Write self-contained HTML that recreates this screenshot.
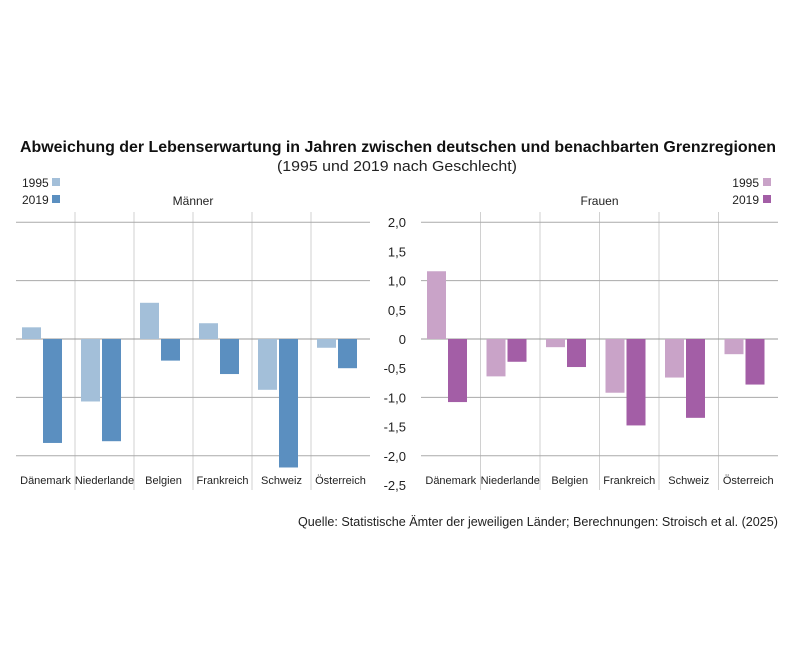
<!DOCTYPE html>
<html><head><meta charset="utf-8"><style>
body{margin:0;background:#fff;}
svg{display:block;font-family:"Liberation Sans",sans-serif;}
</style></head><body>
<svg id="c" width="800" height="664" viewBox="0 0 800 664">
<text x="398" y="152" text-anchor="middle" font-size="16" font-weight="bold" fill="#111" textLength="756" lengthAdjust="spacingAndGlyphs">Abweichung der Lebenserwartung in Jahren zwischen deutschen und benachbarten Grenzregionen</text>
<text x="397" y="171" text-anchor="middle" font-size="15" fill="#222" textLength="240" lengthAdjust="spacingAndGlyphs">(1995 und 2019 nach Geschlecht)</text>
<text x="778" y="526" text-anchor="end" font-size="12.5" fill="#222" textLength="480" lengthAdjust="spacingAndGlyphs">Quelle: Statistische Ämter der jeweiligen Länder; Berechnungen: Stroisch et al. (2025)</text>
<g id="g"></g>
</svg>
<script>
const categories=["Dänemark","Niederlande","Belgien","Frankreich","Schweiz","Österreich"];
const men1995=[0.2,-1.07,0.62,0.27,-0.87,-0.15];
const men2019=[-1.78,-1.75,-0.37,-0.6,-2.2,-0.5];
const women1995=[1.16,-0.64,-0.14,-0.92,-0.66,-0.26];
const women2019=[-1.08,-0.39,-0.48,-1.48,-1.35,-0.78];
const tickValues=[2,1.5,1,0.5,0,-0.5,-1,-1.5,-2,-2.5];
const tickLabels=["2,0","1,5","1,0","0,5","0","-0,5","-1,0","-1,5","-2,0","-2,5"];
const gridValues=[2,1,0,-1,-2];

const NS="http://www.w3.org/2000/svg";
const g=document.getElementById('g');
function y(v){return 339-v*58.4;}
function mk(t,a){const e=document.createElementNS(NS,t);for(const k in a)e.setAttribute(k,a[k]);g.appendChild(e);return e;}

const panels=[
 {name:"maenner",title:"Männer",x0:16,x1:370,cw:59,a:men1995,b:men2019,ca:"#a3bfd9",cb:"#5b8fc0"},
 {name:"frauen",title:"Frauen",x0:421,x1:778,cw:59.5,a:women1995,b:women2019,ca:"#c9a3c8",cb:"#a35ea6"}
];
panels.forEach(p=>{
  for(let i=1;i<categories.length;i++){
    const x=p.x0+i*p.cw;
    const l=mk('line',{x1:x,x2:x,y1:212,y2:490,stroke:"#d0d0d0","stroke-width":1});
    
    
  }
  gridValues.forEach(v=>{
    const l=mk('line',{x1:p.x0,x2:p.x1,y1:y(v),y2:y(v),stroke:v===0?"#999":"#aaa","stroke-width":1});
    
    
  });
  categories.forEach((c,i)=>{
    const cx=p.x0+i*p.cw;
    [[p.a[i],p.ca,6,'1995'],[p.b[i],p.cb,27,'2019']].forEach(([v,col,off,yr])=>{
      const r=mk('rect',{x:cx+off,width:19,y:Math.min(y(v),y(0)),height:Math.abs(y(v)-y(0)),fill:col});
      
      
    });
    const t=mk('text',{x:cx+p.cw/2,y:484,"text-anchor":"middle","font-size":11,fill:"#222"});
    t.textContent=c;
    
    
  });
  const t=mk('text',{x:(p.x0+p.x1)/2,y:205,"text-anchor":"middle","font-size":12,fill:"#222"});
  t.textContent=p.title;
  
  
});
tickValues.forEach((v,i)=>{
  const t=mk('text',{x:406,y:y(v)+5,"text-anchor":"end","font-size":13,fill:"#222"});
  t.textContent=tickLabels[i];
  
  
});
// legends
[[22,48,"#a3bfd9","#5b8fc0","start"],[759,750,"#c9a3c8","#a35ea6","end"]].forEach(([tx,sx,c1,c2,an],k)=>{
  [["1995",c1,187],["2019",c2,204]].forEach(([yr,col,yy])=>{
    const t=mk('text',{x:tx,y:yy,"text-anchor":an,"font-size":12,fill:"#222"});
    t.textContent=yr;
    
    
    const r=mk('rect',{x:k===0?52:763,y:yy-9,width:8,height:8,fill:col});
    
    
  });
});
</script>
</body></html>
